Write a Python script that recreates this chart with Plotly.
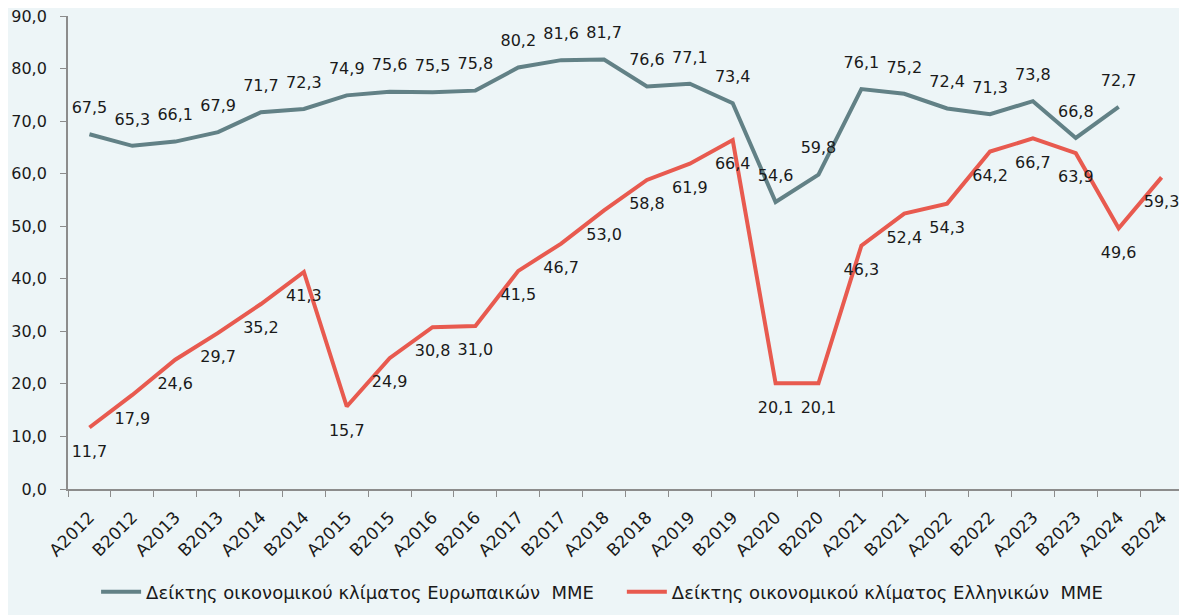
import plotly.graph_objects as go

categories = ["Α2012", "Β2012", "Α2013", "Β2013", "Α2014", "Β2014", "Α2015", "Β2015",
              "Α2016", "Β2016", "Α2017", "Β2017", "Α2018", "Β2018", "Α2019", "Β2019",
              "Α2020", "Β2020", "Α2021", "Β2021", "Α2022", "Β2022", "Α2023", "Β2023",
              "Α2024", "Β2024"]
europe = [67.5, 65.3, 66.1, 67.9, 71.7, 72.3, 74.9, 75.6, 75.5, 75.8, 80.2, 81.6, 81.7,
          76.6, 77.1, 73.4, 54.6, 59.8, 76.1, 75.2, 72.4, 71.3, 73.8, 66.8, 72.7, None]
greece = [11.7, 17.9, 24.6, 29.7, 35.2, 41.3, 15.7, 24.9, 30.8, 31.0, 41.5, 46.7, 53.0,
          58.8, 61.9, 66.4, 20.1, 20.1, 46.3, 52.4, 54.3, 64.2, 66.7, 63.9, 49.6, 59.3]
name_eu = "Δείκτης οικονομικού κλίματος Ευρωπαικών  ΜΜΕ"
name_gr = "Δείκτης οικονομικού κλίματος Ελληνικών  ΜΜΕ"

def fmt(v):
    return "" if v is None else f"{v:.1f}".replace(".", ",")

font_family = "'DejaVu Sans', 'Noto Sans', sans-serif"
fig = go.Figure()
fig.add_trace(go.Scatter(
    x=categories, y=europe, name=name_eu + "\u00a0" * 4, mode="lines+markers+text",
    line=dict(color="#628186", width=4),
    marker=dict(size=26, color="rgba(0,0,0,0)"),
    text=[fmt(v) for v in europe], textposition="top center",
    textfont=dict(size=16, color="#1a1a1a", family=font_family),
    cliponaxis=False))
fig.add_trace(go.Scatter(
    x=categories, y=greece, name=name_gr, mode="lines+markers+text",
    line=dict(color="#E85A4F", width=4),
    marker=dict(size=26, color="rgba(0,0,0,0)"),
    text=[fmt(v) for v in greece], textposition="bottom center",
    textfont=dict(size=16, color="#1a1a1a", family=font_family),
    cliponaxis=False))

fig.update_layout(
    width=1179, height=607,
    paper_bgcolor="#EDF5F7", plot_bgcolor="#EDF5F7",
    margin=dict(l=60, r=4, t=8, b=117),
    separators=",.",
    font=dict(family=font_family, size=16, color="#1a1a1a"),
    showlegend=True,
    legend=dict(orientation="h", x=0.479, xanchor="center", y=-0.218, yanchor="middle",
                font=dict(size=18), bgcolor="rgba(0,0,0,0)", traceorder="normal",
                itemwidth=40),
)
fig.update_xaxes(
    type="category", tickson="boundaries", showgrid=False, automargin=False,
    showline=True, linecolor="#8c8c8c", linewidth=1.5,
    ticks="outside", ticklen=6, tickcolor="#8c8c8c", ticklabelstandoff=10,
    tickangle=-45, tickfont=dict(size=17), range=[-0.5, 25.5])
fig.update_yaxes(
    range=[0, 90], dtick=10, tickformat=".1f", showgrid=False, zeroline=False,
    automargin=False, ticksuffix="\u00a0\u00a0", ticklabeloverflow="allow",
    showline=True, linecolor="#8c8c8c", linewidth=1.5,
    ticks="outside", ticklen=6, tickcolor="#8c8c8c", tickfont=dict(size=16))

fig.write_html("out.html")
